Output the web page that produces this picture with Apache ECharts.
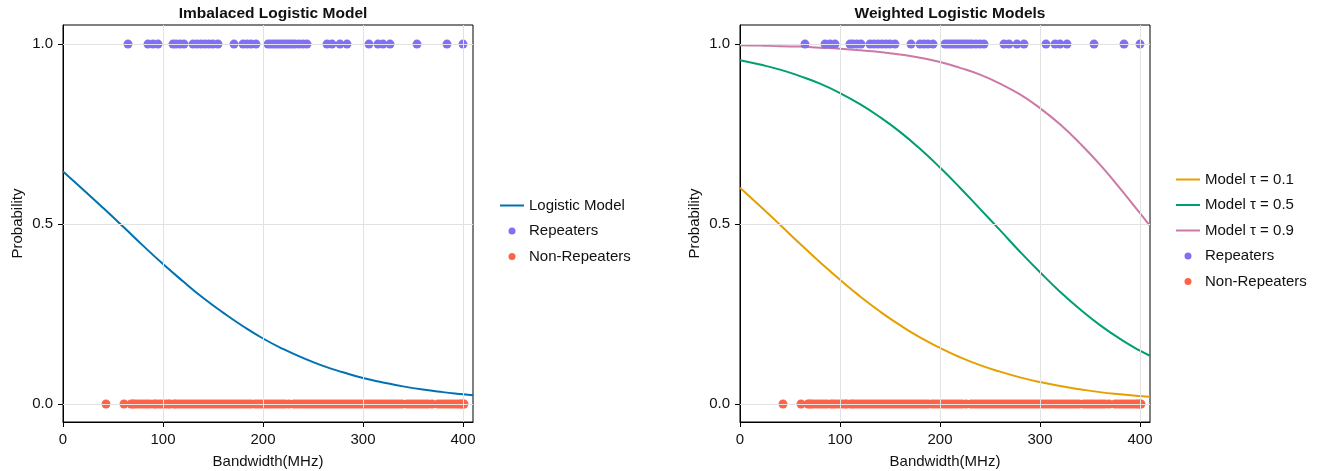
<!DOCTYPE html>
<html>
<head>
<meta charset="utf-8">
<title>Logistic models</title>
<script src="https://cdn.jsdelivr.net/npm/echarts@6/dist/echarts.min.js"></script>
<style>
  html, body { margin: 0; padding: 0; background: #fff; }
  #chart { width: 1320px; height: 471px; }
</style>
</head>
<body>
<div id="chart"></div>
<script>
// bandwidth (MHz) of the repeating sources, plotted at p = 1
var repeaterBw = [65, 85, 90, 95, 110, 113, 117, 121, 130, 134, 138, 142, 146, 150, 155,
  171, 180, 184, 188, 193, 205, 208, 211, 214, 217, 220, 223, 226, 229, 232, 236, 240, 244,
  264, 269, 277, 284, 306, 315, 320, 327, 354, 384, 400];

// bandwidth (MHz) of the non-repeaters, plotted at p = 0
var nonRepeaterBw = [43, 61, 68, 70, 72, 75, 78, 81, 84, 87,
  91, 93, 96, 99, 102, 105, 107,
  111, 113, 116, 119, 122, 125, 128, 131, 134, 137, 140, 143, 146, 149, 152, 155, 158, 161,
  164, 167, 170, 173, 176, 179, 182, 185, 188,
  192, 195, 198, 201, 204, 207, 210, 213, 216, 219, 222, 226,
  231, 234, 237, 240, 243, 246, 249, 252, 255, 258, 261, 264, 267, 270, 273, 276, 279, 282,
  285, 288, 291, 294, 297, 300, 303, 306, 309, 312, 315, 318, 321, 324, 327, 330, 333, 336, 339,
  344, 347, 350, 353, 356, 359, 362, 365, 369,
  375, 378, 381, 384, 387, 390, 393, 396, 398, 400, 401];

// model curves
var modelBw = [0, 20, 40, 60, 80, 100, 120, 140, 160, 180, 200, 220, 240, 260, 280, 300, 320, 340, 360, 380, 400, 410];
var logisticP = [0.646, 0.596, 0.545, 0.493, 0.440, 0.389, 0.341, 0.295, 0.254, 0.216, 0.182,
  0.153, 0.128, 0.106, 0.088, 0.072, 0.060, 0.049, 0.040, 0.033, 0.027, 0.024];
var tau01P = [0.601, 0.550, 0.498, 0.445, 0.394, 0.345, 0.299, 0.257, 0.219, 0.185, 0.156,
  0.130, 0.108, 0.090, 0.074, 0.061, 0.050, 0.041, 0.033, 0.027, 0.022, 0.020];
var tau05P = [0.955, 0.943, 0.929, 0.911, 0.890, 0.864, 0.833, 0.797, 0.756, 0.709, 0.657,
  0.601, 0.542, 0.483, 0.423, 0.366, 0.312, 0.263, 0.219, 0.181, 0.148, 0.134];
var tau09P = [0.997, 0.996, 0.994, 0.993, 0.990, 0.987, 0.983, 0.978, 0.971, 0.962, 0.950,
  0.934, 0.915, 0.890, 0.860, 0.822, 0.777, 0.724, 0.665, 0.599, 0.530, 0.495];

var xTicks = [0, 100, 200, 300, 400];
var yTicks = [0, 0.5, 1];
var xGrid = [100, 200, 300, 400];

var colors = {
  logistic: '#0072B2',
  tau01: '#E69F00',
  tau05: '#009E73',
  tau09: '#CC79A7',
  rep: '#8070F5',
  nonRep: '#FF6347'
};

function pairs(xs, ys) {
  return xs.map(function (x, i) { return [x, ys[i]]; });
}
function flat(xs, y) {
  return xs.map(function (x) { return [x, y]; });
}

var font = 'Liberation Sans';
var lineIcon = 'path://M0,0H24V2H0Z';

function xAxisFor(idx) {
  return {
    type: 'value', gridIndex: idx, min: 0, max: 410,
    name: 'Bandwidth(MHz)', nameLocation: 'middle', nameGap: 32,
    nameTextStyle: { fontSize: 15, color: '#111', fontFamily: font },
    axisLine: { show: true, onZero: false, lineStyle: { color: '#000', width: 1 } },
    axisTick: { show: true, inside: false, length: 5, customValues: xTicks, lineStyle: { color: '#000' } },
    axisLabel: { customValues: xTicks, fontSize: 15, color: '#111', margin: 10, fontFamily: font },
    splitLine: { show: false }
  };
}
function yAxisFor(idx) {
  return {
    type: 'value', gridIndex: idx, min: -0.05, max: 1.053,
    name: 'Probability', nameLocation: 'middle', nameGap: 38,
    nameTextStyle: { fontSize: 15, color: '#111', fontFamily: font },
    axisLine: { show: true, onZero: false, lineStyle: { color: '#000', width: 1 } },
    axisTick: { show: true, inside: false, length: 5, customValues: yTicks, lineStyle: { color: '#000' } },
    axisLabel: {
      customValues: yTicks, fontSize: 15, color: '#111', margin: 10, fontFamily: font,
      formatter: function (v) { return v.toFixed(1); }
    },
    splitLine: { show: false }
  };
}

// light grid lines behind everything
function gridLines(idx) {
  var d = yTicks.map(function (v) { return { yAxis: v }; })
    .concat(xGrid.map(function (v) { return { xAxis: v }; }));
  return {
    type: 'line', xAxisIndex: idx, yAxisIndex: idx, data: [], z: 0, silent: true,
    markLine: {
      silent: true, symbol: ['none', 'none'], label: { show: false }, animation: false,
      lineStyle: { color: '#e2e2e2', type: 'solid', width: 1 },
      emphasis: { disabled: true },
      data: d
    }
  };
}
function curve(idx, name, ys, color) {
  return {
    name: name, type: 'line', xAxisIndex: idx, yAxisIndex: idx,
    data: pairs(modelBw, ys), symbol: 'none', smooth: true,
    lineStyle: { color: color, width: 2 }, itemStyle: { color: color }, z: 2
  };
}
function dots(idx, name, xs, y, color) {
  return {
    name: name, type: 'scatter', xAxisIndex: idx, yAxisIndex: idx,
    data: flat(xs, y), symbol: 'circle', symbolSize: 9,
    itemStyle: { color: color, opacity: 1 }, z: 3
  };
}
function legendFor(lineNames, dotNames, left, top) {
  var items = lineNames.map(function (n) { return { name: n, icon: lineIcon }; })
    .concat(dotNames.map(function (n) { return { name: n, icon: 'circle' }; }));
  return {
    data: items, orient: 'vertical', left: left, top: top,
    itemWidth: 24, itemHeight: 7, itemGap: 10.5, selectedMode: false,
    textStyle: { fontSize: 15, color: '#111', fontFamily: font }
  };
}

var chart = echarts.init(document.getElementById('chart'), null, { renderer: 'canvas' });
chart.setOption({
  animation: false,
  backgroundColor: '#fff',
  textStyle: { fontFamily: font },
  title: [
    { text: 'Imbalaced Logistic Model', left: 268, top: 1, textAlign: 'center',
      textStyle: { fontSize: 15.5, fontWeight: 'bold', color: '#111', fontFamily: font } },
    { text: 'Weighted Logistic Models', left: 945, top: 1, textAlign: 'center',
      textStyle: { fontSize: 15.5, fontWeight: 'bold', color: '#111', fontFamily: font } }
  ],
  grid: [
    { left: 63, top: 25, width: 410, height: 397, show: true, borderColor: '#000', borderWidth: 1,
      backgroundColor: 'transparent', containLabel: false, outerBoundsMode: 'none' },
    { left: 740, top: 25, width: 410, height: 397, show: true, borderColor: '#000', borderWidth: 1,
      backgroundColor: 'transparent', containLabel: false, outerBoundsMode: 'none' }
  ],
  legend: [
    legendFor(['Logistic Model'], ['Repeaters', 'Non-Repeaters'], 495, 193),
    legendFor(['Model τ = 0.1', 'Model τ = 0.5', 'Model τ = 0.9'], ['Repeaters', 'Non-Repeaters'], 1171, 167)
  ],
  xAxis: [xAxisFor(0), xAxisFor(1)],
  yAxis: [yAxisFor(0), yAxisFor(1)],
  series: [
    gridLines(0),
    gridLines(1),
    curve(0, 'Logistic Model', logisticP, colors.logistic),
    dots(0, 'Repeaters', repeaterBw, 1, colors.rep),
    dots(0, 'Non-Repeaters', nonRepeaterBw, 0, colors.nonRep),
    curve(1, 'Model τ = 0.1', tau01P, colors.tau01),
    curve(1, 'Model τ = 0.5', tau05P, colors.tau05),
    curve(1, 'Model τ = 0.9', tau09P, colors.tau09),
    dots(1, 'Repeaters', repeaterBw, 1, colors.rep),
    dots(1, 'Non-Repeaters', nonRepeaterBw, 0, colors.nonRep)
  ]
});
</script>
</body>
</html>
